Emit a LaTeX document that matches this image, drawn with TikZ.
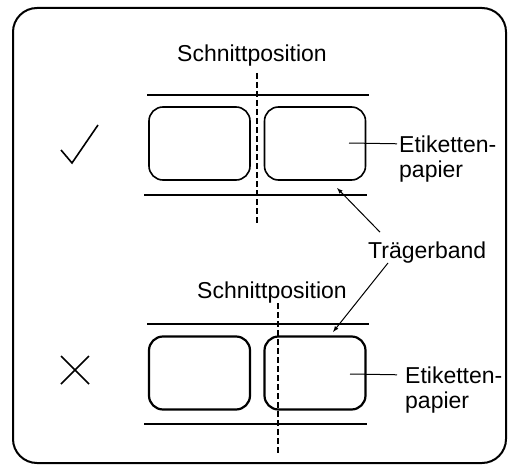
\documentclass[tikz,border=0pt]{standalone}
\usepackage{fontspec}
\setmainfont{Liberation Sans}
\usetikzlibrary{positioning}

\begin{document}
\begin{tikzpicture}[
    x=1pt, y=-1pt,
    txt/.style={font=\fontsize{23}{26}\selectfont, inner sep=0pt, anchor=base west},
    frame/.style={draw, line width=2pt, rounded corners=24pt},
    band/.style={draw, line width=2pt},
    labelbox/.style={draw, rectangle, rounded corners=14pt, minimum width=101pt, minimum height=73pt, inner sep=0pt, outer sep=0pt, line width=1.6pt},
    badbox/.style={labelbox, line width=2.2pt},
    cutline/.style={draw, dash pattern=on 6pt off 3pt, line width=1.5pt},
    leader/.style={draw, line width=1pt},
    pointer/.style={draw, line width=1pt, ->, >=latex},
    sign/.style={draw, line width=1.6pt}
]
\useasboundingbox (0,0) rectangle (508,468);

% Outer frame
\draw[frame] (13,8) rectangle (506,463);

% Correct cut (top)
\draw[sign] (61,150) -- (72,163) -- (98,125);
\node[txt] (cut1) at (177,62) {Schnittposition};
\draw[band] (147,95) -- (369,95);
\draw[band] (144,195) -- (367,195);
\node[labelbox] (lab1) at (199.5,143.5) {};
\node[labelbox] (lab2) at (315,143.5) {};
\draw[cutline] (257,73) -- (257,223);

% Label paper note (top)
\node[txt] (etik1) at (399,152) {Etiketten-};
\node[txt] (pap1) at (399,177) {papier};
\coordinate (in1) at (349,143);
\draw[leader] (in1) -- ([xshift=-2pt]etik1.west);

% Carrier tape
\node[txt] (traeger) at (368,258) {Trägerband};
\coordinate (tip1) at (337,188);
\coordinate (tip2) at (333,332);
\draw[pointer] ([shift={(12,-9)}]traeger.north west) -- (tip1);
\draw[pointer] ([xshift=20pt]traeger.south west) -- (tip2);

% Wrong cut (bottom)
\draw[sign] (61,356) -- (89,384);
\draw[sign] (61,384) -- (89,356);
\node[txt] (cut2) at (197,298) {Schnittposition};
\draw[band] (147,324) -- (369,324);
\draw[band] (144,424) -- (367,424);
\node[badbox] (lab3) at (199.5,373) {};
\node[badbox] (lab4) at (315,373) {};
\draw[cutline] (278,303) -- (278,453);

% Label paper note (bottom)
\node[txt] (etik2) at (405,383) {Etiketten-};
\node[txt] (pap2) at (405,408) {papier};
\coordinate (in2) at (350,374);
\draw[leader] (in2) -- ([xshift=-8pt]etik2.west);

\end{tikzpicture}
\end{document}
